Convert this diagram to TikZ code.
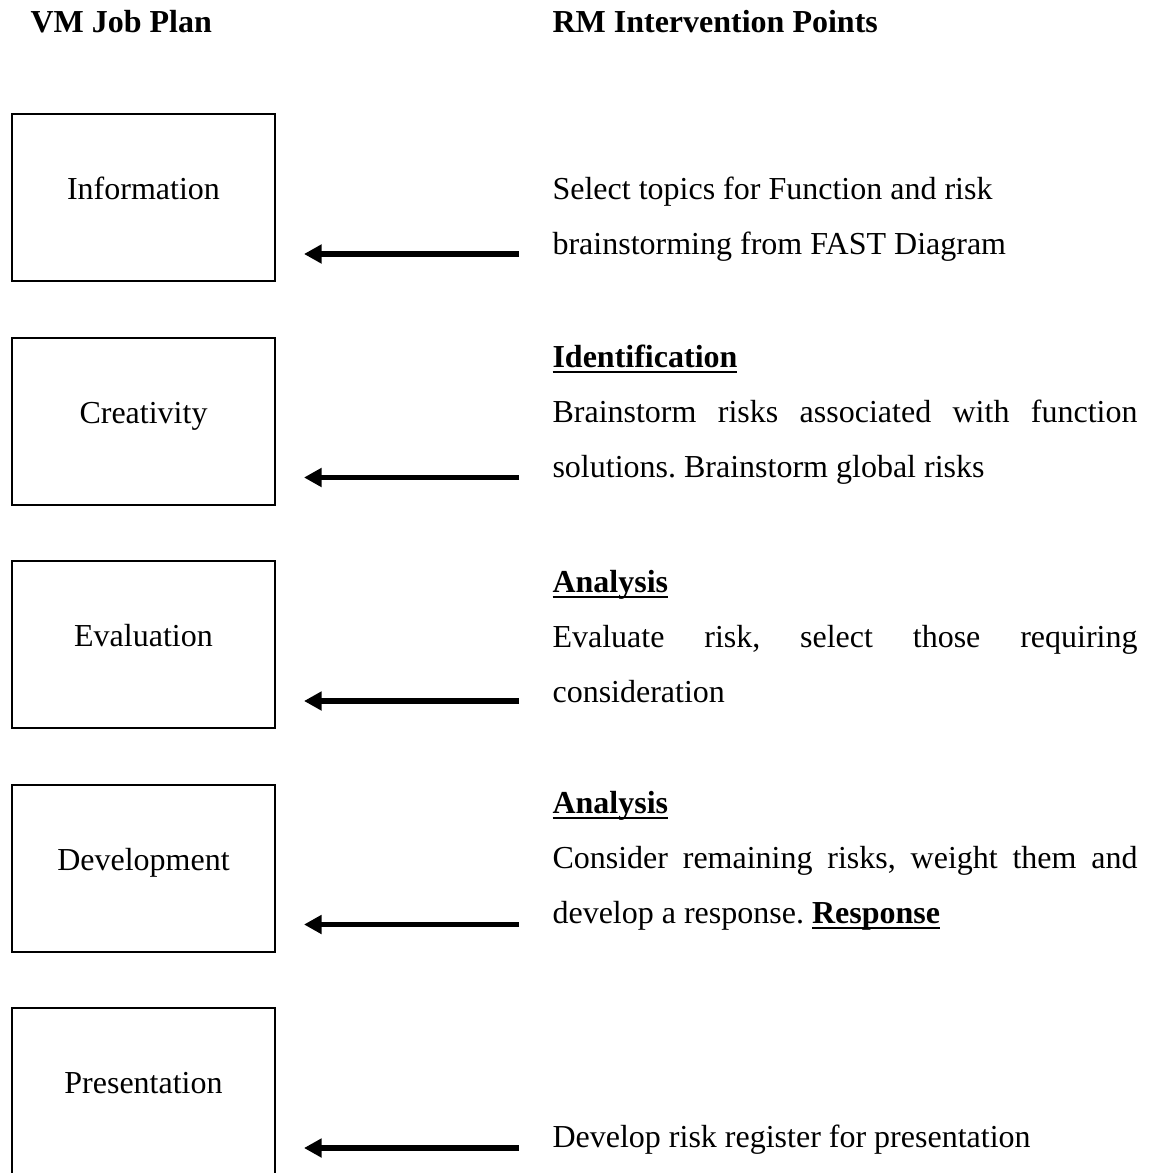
\documentclass[tikz,border=0pt]{standalone}
\usepackage{fontspec}
\setmainfont{Liberation Serif}
\usetikzlibrary{arrows.meta,calc}

% bold word with a heavy underline
\newsavebox\ulwordbox
\newcommand\ulword[1]{\sbox\ulwordbox{\textbf{#1}}\rlap{\rule[-2.4pt]{\wd\ulwordbox}{1pt}}\usebox\ulwordbox}

\tikzset{
  basefont/.style={font=\fontsize{12pt}{20.625pt}\selectfont\frenchspacing},
  heading/.style={font=\fontsize{12pt}{20.625pt}\selectfont\bfseries, anchor=base west, inner sep=0pt},
  stage/.style={basefont, draw, line width=0.75pt, minimum width=98.625pt, minimum height=62.625pt,
                text height=5pt, text depth=3.5pt, inner sep=0pt},
  note/.style={basefont, anchor=base west, inner sep=0pt, text width=219.375pt, align=justify},
  flow/.style={line width=1.9pt, -{Triangle[length=6.6pt,width=6.8pt]}},
}

\begin{document}
\begin{tikzpicture}[x=0.375pt, y=-0.375pt]
  \useasboundingbox (0,0) rectangle (1152,1173);

  % column headings
  \node[heading] (hleft)  at (30,33)  {VM Job Plan};
  \node[heading] (hright) at (552,33) {RM Intervention Points};

  % VM job plan stages
  \node[stage] (b1) at (143.5,197.5)  {Information};
  \node[stage] (b2) at (143.5,421)    {Creativity};
  \node[stage] (b3) at (143.5,644.5)  {Evaluation};
  \node[stage] (b4) at (143.5,868)    {Development};
  \node[stage] (b5) at (143.5,1091.5) {Presentation};

  % RM intervention points
  \node[note] (r1) at (552,200)
    {Select topics for Function and risk\\brainstorming from FAST Diagram};
  \node[note] (r2) at (552,367)
    {\ulword{Identification}\\Brainstorm risks associated with function\linebreak solutions. Brainstorm global risks};
  \node[note] (r3) at (552,592)
    {\ulword{Analysis}\\Evaluate risk, select those requiring\linebreak consideration};
  \node[note] (r4) at (552,813)
    {\ulword{Analysis}\\Consider remaining risks, weight them and\linebreak develop a response. \ulword{Response}};
  \node[note] (r5) at (552,1147)
    {Develop risk register for presentation};

  % arrows from each intervention point back to its stage
  \foreach \k in {1,...,5} {
    \coordinate (s\k) at ($(b\k.south east)+(243,-28)$);
    \coordinate (e\k) at ($(b\k.south east)+(28,-28)$);
    \draw[flow] (s\k) -- (e\k);
  }
\end{tikzpicture}
\end{document}
